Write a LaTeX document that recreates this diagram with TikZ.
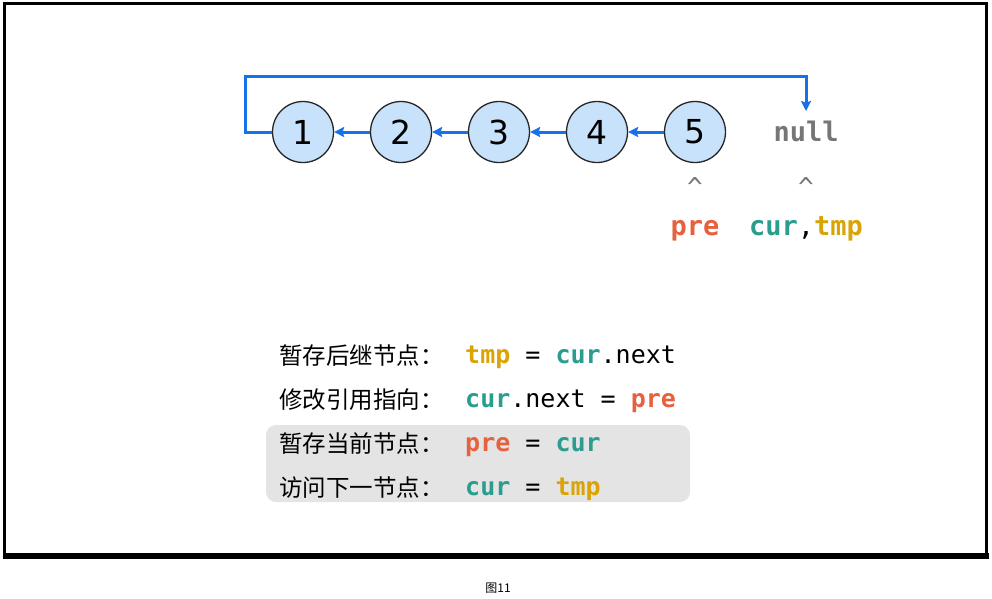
\documentclass[tikz,border=0pt]{standalone}
\usepackage{fontspec}
\setmainfont{DejaVu Sans}
\setmonofont{DejaVu Sans Mono}
\newfontfamily\cjk{Noto Sans CJK SC}
\usepackage{xcolor}
\usetikzlibrary{arrows.meta,positioning,calc}

\definecolor{linkblue}{HTML}{1572E8}
\definecolor{nodefill}{HTML}{C8E2FB}
\definecolor{prec}{HTML}{E8613E}
\definecolor{curc}{HTML}{2A9D8F}
\definecolor{tmpc}{HTML}{D9A404}
\definecolor{nullc}{HTML}{767676}
\definecolor{boxgray}{HTML}{E4E4E4}

\newcommand{\vpre}{\textbf{\textcolor{prec}{pre}}}
\newcommand{\vcur}{\textbf{\textcolor{curc}{cur}}}
\newcommand{\vtmp}{\textbf{\textcolor{tmpc}{tmp}}}

\begin{document}
\begin{tikzpicture}[x=1pt,y=-1pt,
    listnode/.style={circle, draw=black!85, line width=1.3pt, fill=nodefill,
        minimum size=61pt, inner sep=0pt, font=\fontsize{33}{33}\selectfont},
    link/.style={draw=linkblue, line width=3pt,
        -{Stealth[length=10pt,width=10pt,inset=1.5pt]}},
    pointer/.style={anchor=base, inner sep=0pt,
        font=\ttfamily\fontsize{27}{27}\selectfont},
    caret/.style={anchor=base, inner sep=0pt, text=nullc,
        font=\ttfamily\fontsize{26}{26}\selectfont},
    steplabel/.style={anchor=base west, inner sep=0pt,
        font=\cjk\fontsize{23.5}{23.5}\selectfont},
    steplcode/.style={anchor=base west, inner sep=0pt,
        font=\ttfamily\fontsize{25}{25}\selectfont}]
    \useasboundingbox (0,0) rectangle (992,598);

    % Cadre
    \draw[line width=2.2pt] (4.5,3.5) rectangle (986.5,555);
    \fill (3,553) rectangle (988.5,559);

    % Liste chainee
    \foreach \i in {1,...,5} {
        \node[listnode] (n\i) at (205+98*\i,132) {\i};
    }
    \node[pointer, text=nullc] (null) at (806,141) {\textbf{null}};
    \foreach \i/\j in {2/1,3/2,4/3,5/4} {
        \draw[link] (n\i.west) -- (n\j.east);
    }

    % Retour vers null
    \coordinate (loopL) at (245,76);
    \coordinate (loopR) at (806,76);
    \coordinate (nullTop) at (806,111);
    \draw[link] (n1.west) -| (loopL) -- (loopR) -- (nullTop);

    % Pointeurs
    \node[caret] (hatPre) at (695,196) {\textasciicircum};
    \node[caret] (hatCur) at (806,196) {\textasciicircum};
    \node[pointer] (ptrPre) at (695,235) {\vpre};
    \node[pointer] (ptrCur) at (806,235) {\vcur,\vtmp};

    % Etapes
    \fill[boxgray, rounded corners=10pt] (266,425) rectangle (690,502);
    \node[steplabel] (s1) at (279,364) {暂存后继节点：};
    \node[steplabel] (s2) at (279,408) {修改引用指向：};
    \node[steplabel] (s3) at (279,452) {暂存当前节点：};
    \node[steplabel] (s4) at (279,496) {访问下一节点：};
    \node[steplcode] (c1) at (465,363) {\vtmp{} = \vcur.next};
    \node[steplcode] (c2) at (465,407) {\vcur.next = \vpre};
    \node[steplcode] (c3) at (465,451) {\vpre{} = \vcur};
    \node[steplcode] (c4) at (465,495) {\vcur{} = \vtmp};

    % Legende
    \node[font=\cjk\fontsize{12}{12}\selectfont] (cap) at (498,588) {图11};
\end{tikzpicture}
\end{document}
